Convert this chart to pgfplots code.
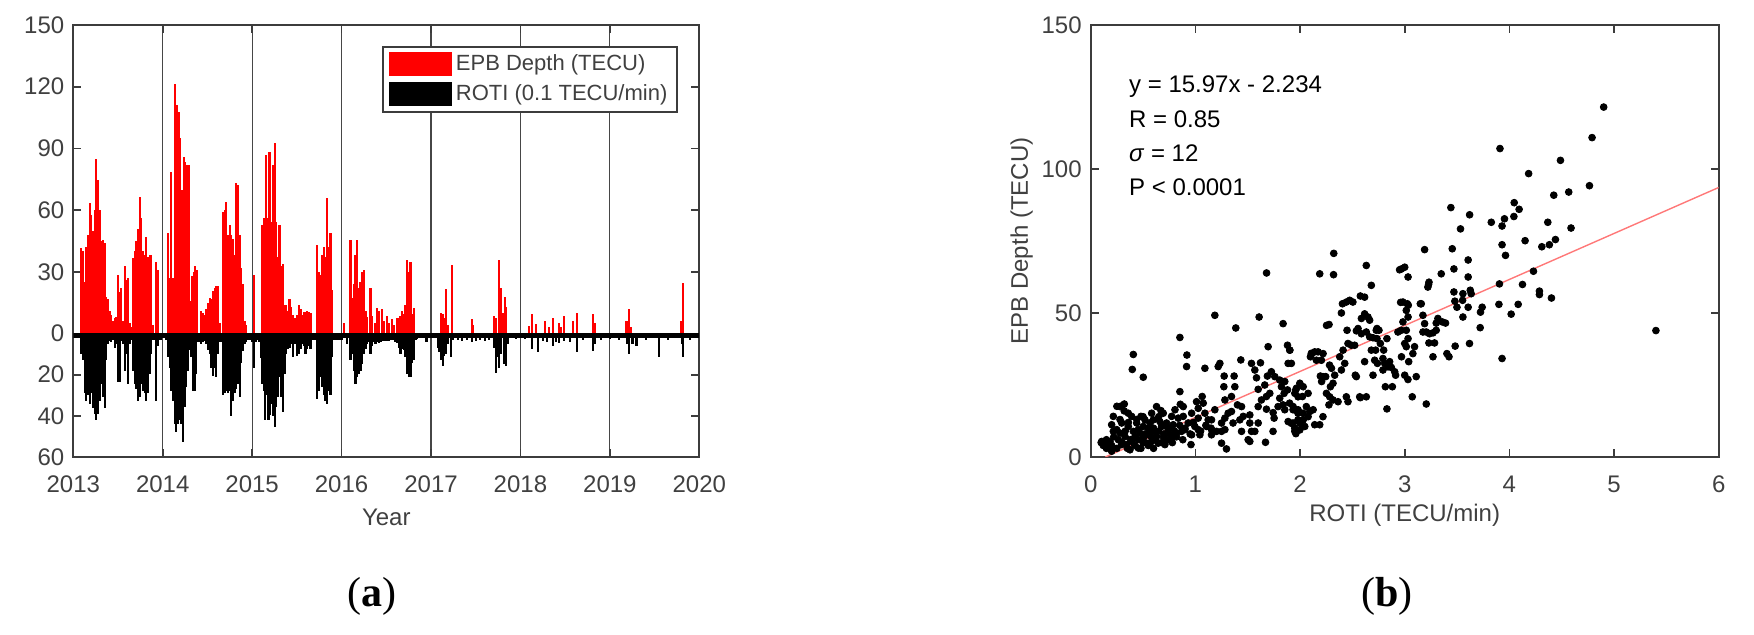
\documentclass[border=0pt]{standalone}
\usepackage{pgfplots}
\pgfplotsset{compat=1.18}
\usepackage{pgfplotstable}
\usepackage{fontspec}
\setmainfont{Liberation Sans}
\newfontfamily\seriffont{Liberation Serif}
\definecolor{txtgray}{RGB}{64,64,64}
\definecolor{axgray}{RGB}{60,60,60}
\definecolor{gridgray}{RGB}{70,70,70}
\definecolor{fitred}{RGB}{255,120,120}

\pgfplotstableread{
yr v
2013.089 41.6
2013.108 40
2013.127 25
2013.145 42
2013.164 48
2013.183 63.4
2013.201 57.7
2013.220 50
2013.239 60
2013.257 84.7
2013.276 74.7
2013.295 60
2013.313 45
2013.332 45.6
2013.350 44
2013.369 18
2013.388 17
2013.406 11
2013.425 9
2013.444 6
2013.462 7.7
2013.481 8
2013.500 28.7
2013.518 20
2013.537 22
2013.556 6
2013.574 32.7
2013.593 26
2013.611 27
2013.630 5
2013.649 3
2013.667 36.8
2013.686 40
2013.705 45
2013.723 51
2013.742 66.6
2013.761 56
2013.779 40
2013.798 38
2013.817 47
2013.835 37
2013.854 38
2013.872 38
2013.891 4
2013.928 35
2013.947 31
2014.059 49
2014.077 27
2014.096 78.7
2014.115 27
2014.133 74
2014.141 121.5
2014.159 111
2014.178 107.7
2014.197 95
2014.215 70
2014.234 86
2014.252 83.5
2014.271 82
2014.290 82
2014.308 16
2014.327 28
2014.346 30
2014.364 32.7
2014.383 31
2014.432 11
2014.450 10
2014.469 9
2014.488 12
2014.506 15
2014.525 17.4
2014.544 17
2014.562 20.6
2014.581 22
2014.600 23
2014.618 23
2014.637 5
2014.674 59
2014.693 60
2014.711 64
2014.730 48
2014.749 53
2014.767 48
2014.786 46
2014.805 38
2014.823 73
2014.842 72
2014.861 48
2014.879 32
2014.898 24
2014.917 6
2014.935 4
2015.019 28.7
2015.112 53
2015.130 56
2015.145 55
2015.157 86.8
2015.175 56
2015.194 88.4
2015.213 54
2015.231 82
2015.254 92.4
2015.268 54
2015.287 37
2015.306 53
2015.324 33
2015.343 34
2015.362 14
2015.380 14
2015.399 11
2015.418 16.6
2015.436 13
2015.455 9
2015.477 7.7
2015.503 9
2015.522 14
2015.541 11.8
2015.559 9
2015.578 10.6
2015.597 10.3
2015.615 11
2015.634 10.6
2015.653 10
2015.727 43
2015.746 30
2015.764 28.7
2015.783 38
2015.802 42
2015.820 37
2015.839 65.8
2015.858 42
2015.876 49
2015.895 21
2016.025 5.3
2016.100 45.6
2016.119 17.4
2016.137 24
2016.156 38
2016.174 45.6
2016.193 22
2016.212 25
2016.230 30
2016.249 31
2016.268 11
2016.286 8
2016.324 22
2016.342 8.5
2016.380 5.3
2016.398 12.6
2016.417 11
2016.454 11.8
2016.473 6
2016.510 8.5
2016.529 5.3
2016.566 7
2016.585 4
2016.622 7.7
2016.641 7.7
2016.659 8.5
2016.678 11
2016.697 9.4
2016.715 14
2016.734 36
2016.753 30
2016.771 35
2016.790 9.4
2016.808 12.6
2017.112 10
2017.130 9.4
2017.149 7.7
2017.168 21.5
2017.186 4
2017.235 33.5
2017.455 7
2017.474 4
2017.708 8.5
2017.727 7.7
2017.764 35.6
2017.783 22
2017.802 10
2017.820 10
2017.831 18
2017.843 13
2018.092 3.7
2018.130 9.4
2018.174 4.5
2018.279 6
2018.316 3
2018.361 7.7
2018.428 5.3
2018.447 3
2018.491 8.5
2018.585 6
2018.629 10
2018.808 9.4
2018.834 5
2019.186 6
2019.216 11.8
2019.235 3
2019.794 6
2019.820 24.7
}\epbdata

\pgfplotstableread{
yr v
2013.089 -10
2013.108 -13
2013.127 -29
2013.145 -32.6
2013.164 -30
2013.183 -34
2013.201 -29
2013.220 -36
2013.239 -39
2013.257 -42
2013.276 -39
2013.295 -32.6
2013.313 -24.5
2013.332 -31
2013.350 -36
2013.369 -13
2013.388 -5
2013.406 -3.5
2013.425 -4
2013.444 -3
2013.462 -7
2013.481 -5
2013.500 -23.7
2013.518 -23.7
2013.537 -3.5
2013.556 -5
2013.574 -18
2013.593 -10
2013.611 -24.5
2013.630 -5
2013.649 -3
2013.667 -18
2013.686 -24.5
2013.705 -27
2013.723 -33
2013.742 -31
2013.761 -24.5
2013.779 -27.7
2013.798 -29
2013.817 -32.6
2013.835 -29
2013.854 -19.7
2013.872 -10
2013.891 -3
2013.910 -3
2013.928 -32.6
2013.947 -6
2013.966 -3
2013.984 -3
2014.003 -2
2014.021 -2
2014.040 -3
2014.059 -11.6
2014.077 -16.5
2014.096 -27.7
2014.115 -32.6
2014.133 -44
2014.152 -48
2014.171 -44
2014.189 -42
2014.208 -44
2014.227 -52.7
2014.245 -35.5
2014.264 -26
2014.283 -18
2014.301 -8
2014.320 -11.6
2014.339 -27.7
2014.357 -27.7
2014.376 -19.7
2014.394 -4
2014.413 -4
2014.432 -5
2014.450 -4
2014.469 -3.5
2014.488 -5
2014.506 -8
2014.525 -10
2014.544 -16.5
2014.562 -20.5
2014.581 -16.5
2014.600 -21
2014.618 -10
2014.637 -4
2014.655 -4
2014.674 -30
2014.693 -29
2014.711 -28
2014.730 -29
2014.749 -27.7
2014.767 -40
2014.786 -32.6
2014.805 -29
2014.823 -27
2014.842 -24.5
2014.861 -31
2014.879 -14.5
2014.898 -8.5
2014.917 -5
2014.935 -4
2014.955 -3
2014.975 -3
2015.000 -4
2015.019 -16.5
2015.040 -4
2015.060 -3
2015.080 -4
2015.100 -12
2015.112 -24.5
2015.130 -27.7
2015.145 -42
2015.163 -29.8
2015.182 -42
2015.200 -39.5
2015.219 -34
2015.238 -40.3
2015.254 -45.5
2015.268 -35.5
2015.287 -31
2015.306 -21
2015.324 -31
2015.343 -38
2015.362 -19.7
2015.380 -10
2015.399 -7.5
2015.418 -6.9
2015.436 -5
2015.455 -11.6
2015.477 -5
2015.503 -10.8
2015.522 -10
2015.541 -7.5
2015.559 -5
2015.578 -6
2015.597 -10
2015.615 -7.5
2015.634 -6
2015.653 -7.5
2015.672 -3
2015.690 -3
2015.709 -3
2015.727 -32
2015.746 -27.7
2015.764 -21
2015.783 -26
2015.802 -29.8
2015.820 -33
2015.839 -34
2015.858 -27.7
2015.876 -30
2015.895 -11.6
2015.915 -3
2015.935 -3
2015.955 -3
2015.975 -3
2016.000 -3
2016.025 -2
2016.062 -5
2016.100 -13
2016.119 -10
2016.137 -18
2016.156 -24.5
2016.174 -21
2016.193 -19.7
2016.212 -18
2016.230 -15
2016.249 -10
2016.268 -7.5
2016.286 -5
2016.305 -4
2016.324 -10
2016.342 -6
2016.361 -4
2016.380 -5
2016.398 -4
2016.417 -4.4
2016.436 -4
2016.454 -3.5
2016.473 -3.5
2016.492 -3.5
2016.510 -3.5
2016.529 -3.5
2016.548 -3
2016.566 -3
2016.585 -3
2016.603 -4
2016.622 -4.4
2016.641 -7
2016.659 -10
2016.678 -7.5
2016.697 -8
2016.715 -11.6
2016.734 -19.7
2016.753 -21
2016.771 -21
2016.790 -14.5
2016.808 -13
2016.827 -3
2016.845 -2.5
2016.950 -4
2017.075 -7
2017.093 -9
2017.112 -13
2017.130 -15.6
2017.149 -11
2017.168 -10
2017.186 -5
2017.224 -11.6
2017.242 -3
2017.300 -3
2017.350 -3.5
2017.400 -3
2017.455 -4
2017.500 -3.5
2017.550 -3
2017.600 -3.5
2017.650 -3
2017.708 -7
2017.727 -19
2017.746 -11.6
2017.764 -16.5
2017.783 -10
2017.820 -15
2017.839 -16
2017.858 -5
2017.950 -2.5
2018.050 -2.5
2018.130 -7.5
2018.193 -9
2018.250 -3.5
2018.300 -4
2018.361 -6
2018.400 -4
2018.428 -4.4
2018.491 -3.5
2018.550 -4
2018.629 -9
2018.700 -3
2018.808 -8.4
2018.834 -5
2018.900 -3
2019.000 -2.5
2019.100 -3
2019.198 -5
2019.216 -10
2019.254 -5
2019.298 -6
2019.400 -3
2019.552 -11.6
2019.650 -3
2019.805 -5
2019.820 -11.6
2019.900 -3
}\rotidata

\pgfplotstableread{
x y
4.901 121.5
4.790 110.9
4.488 103.0
4.184 98.4
4.765 94.2
4.567 92.0
4.424 90.9
4.046 88.3
4.093 86.0
4.043 83.5
3.953 82.7
3.930 80.2
4.367 81.5
4.589 79.5
4.150 75.1
4.440 75.5
4.382 73.7
4.310 73.0
3.930 73.7
3.963 70.0
4.230 64.5
4.125 59.9
4.287 57.6
4.287 56.4
4.402 55.2
4.084 53.0
4.017 49.6
3.930 34.2
5.400 43.9
3.910 107.1
3.905 60.1
3.900 53.0
3.827 81.5
3.620 84.1
3.533 79.2
3.441 86.6
3.454 72.3
3.190 72.0
3.606 68.4
3.470 65.3
3.606 62.5
3.724 50.3
3.740 52.0
3.721 44.9
3.635 56.7
3.626 57.9
3.556 56.7
3.553 54.4
3.556 48.6
3.606 52.0
3.470 57.3
3.479 54.1
3.499 52.0
3.619 39.4
3.482 38.5
3.349 63.6
3.228 59.9
3.221 59.0
3.149 53.2
3.034 52.7
3.015 50.9
2.961 53.7
3.000 65.9
2.969 65.3
3.032 62.5
3.025 53.2
3.032 48.6
3.015 44.0
2.983 46.9
2.967 44.0
2.935 43.4
3.000 39.4
3.032 41.1
3.015 38.3
3.094 38.3
3.078 35.9
3.038 33.1
2.969 34.8
3.110 27.9
3.031 26.9
3.000 28.4
3.072 20.9
3.206 18.4
2.830 16.7
2.815 24.4
2.882 24.4
3.174 49.2
3.190 46.3
3.174 43.4
3.206 43.4
3.237 42.8
3.270 43.1
3.301 44.0
3.285 39.6
3.231 39.6
3.270 34.8
3.301 46.5
3.359 46.9
3.390 46.5
3.317 48.1
3.403 35.9
3.423 34.8
3.232 60.7
3.158 53.2
2.983 53.8
2.951 65.0
2.617 49.7
2.649 48.6
2.586 48.1
2.681 59.6
2.633 66.5
2.576 55.9
2.617 55.5
2.442 53.8
2.474 54.4
2.395 50.0
2.277 46.0
2.449 44.0
2.538 43.8
2.522 38.8
2.490 38.8
2.665 47.5
2.728 44.0
2.665 41.7
2.697 41.4
2.735 41.1
2.767 39.4
2.830 41.1
2.754 44.0
2.713 33.6
2.739 32.5
2.722 37.1
2.799 37.1
2.792 34.2
2.808 32.5
2.840 31.3
2.872 31.1
2.904 29.6
2.913 28.4
2.792 30.2
2.856 33.1
2.617 33.1
2.681 37.1
2.735 44.6
2.554 44.6
2.633 43.4
2.528 28.4
2.538 27.9
2.570 20.9
2.633 20.9
2.697 28.4
2.458 39.4
2.411 37.1
2.379 34.8
2.427 32.5
2.395 30.2
2.331 28.4
2.315 25.6
2.290 24.4
2.252 22.1
2.283 20.9
2.276 18.1
2.315 19.8
2.363 19.2
2.442 20.9
2.458 19.2
2.576 20.6
2.282 31.9
2.300 30.8
2.219 27.9
2.245 27.9
2.206 26.2
2.194 28.1
2.204 33.6
2.220 35.9
2.172 36.5
2.108 35.7
2.140 36.5
2.099 34.8
2.156 33.6
2.188 63.6
2.322 70.7
2.320 63.3
2.405 53.2
2.505 53.8
2.253 45.7
2.586 42.8
1.902 37.1
1.917 32.5
1.959 23.3
1.998 25.6
2.030 24.4
1.950 22.1
1.981 20.9
1.934 17.5
1.981 16.4
2.029 15.2
2.093 15.8
2.125 16.4
2.077 14.0
2.029 12.9
1.998 11.7
1.949 10.0
1.998 9.4
1.960 8.1
2.140 11.2
2.188 11.2
2.219 14.0
1.917 11.7
1.900 18.7
1.680 63.9
1.186 49.2
1.609 48.6
1.838 46.3
1.386 44.8
0.852 41.5
0.407 35.6
0.397 30.4
0.502 27.7
0.919 35.4
0.916 31.4
1.695 38.3
1.880 38.8
1.902 37.1
2.108 36.0
1.886 32.5
1.536 32.5
1.568 30.2
1.622 32.7
1.234 32.5
1.218 31.4
1.434 33.7
1.091 30.8
1.275 28.1
1.370 28.1
1.272 24.4
1.377 24.4
1.345 21.0
1.402 18.1
1.584 27.5
1.600 23.5
1.688 28.1
1.726 29.6
1.759 27.9
1.806 26.7
1.854 26.2
1.822 24.4
1.880 23.3
1.848 22.1
1.806 20.4
1.711 22.1
1.679 21.0
1.631 19.8
1.743 15.4
1.679 16.6
1.600 17.5
1.520 11.8
1.600 11.8
1.568 8.9
1.670 5.1
1.520 5.4
1.504 6.0
1.742 8.9
1.886 12.3
1.933 11.8
1.950 8.9
2.029 12.9
1.980 15.2
2.060 17.5
1.282 13.5
1.313 15.2
1.154 12.9
1.106 10.6
1.154 7.7
1.202 8.9
1.250 8.9
1.282 9.5
1.250 4.8
1.297 2.8
1.065 21.0
1.011 19.2
1.027 16.9
1.075 18.7
1.027 13.5
0.931 11.8
0.964 7.7
0.958 4.3
0.900 9.5
0.852 22.7
0.856 18.3
0.884 17.5
0.805 16.4
0.836 13.5
0.788 11.2
0.820 8.3
0.725 11.8
0.693 15.2
0.671 16.1
0.661 12.3
0.598 12.9
0.566 11.8
0.614 8.9
0.550 7.7
0.502 10.6
0.470 8.3
0.439 11.8
0.407 8.9
0.359 10.6
0.328 7.1
0.296 11.8
0.280 17.5
0.321 18.4
0.216 14.1
0.200 11.2
0.216 8.9
0.184 5.4
0.105 5.4
0.120 4.8
0.152 3.7
0.264 6.0
0.296 4.3
0.375 2.5
0.455 3.1
0.534 4.8
0.582 5.4
0.645 4.8
0.709 4.3
0.693 7.1
0.757 7.7
0.757 5.8
0.788 7.1
0.423 7.1
0.391 5.4
0.343 4.3
0.502 6.6
0.629 7.1
0.582 9.5
0.518 12.9
0.480 14.1
0.391 14.1
0.359 15.2
0.248 9.5
0.280 8.3
0.455 9.5
0.677 10.6
0.741 9.5
0.868 8.9
1.027 9.5
1.043 7.7
0.995 10.6
0.884 14.1
0.773 14.1
0.582 15.2
0.629 17.5
1.122 12.9
1.154 9.5
1.360 11.8
1.425 12.9
1.441 17.5
1.457 14.1
1.520 14.6
1.345 15.8
1.790 17.5
1.838 18.1
1.854 16.4
1.933 16.4
1.980 12.9
1.752 13.5
2.045 10.6
1.966 23.9
2.023 21.0
2.077 22.1
1.663 25.0
1.282 19.8
1.186 16.4
1.441 8.9
1.536 8.9
1.250 11.8
1.091 15.2
0.964 15.2
0.150 6.0
0.200 4.0
0.220 7.0
0.250 3.0
0.300 5.0
0.330 9.0
0.350 3.0
0.380 6.0
0.420 4.0
0.450 6.0
0.480 3.0
0.500 5.0
0.520 8.0
0.550 4.0
0.580 7.0
0.600 3.0
0.620 6.0
0.650 9.0
0.680 5.0
0.700 8.0
0.720 6.0
0.750 10.0
0.780 5.0
0.800 9.0
0.820 7.0
0.850 11.0
0.880 6.0
0.900 10.0
0.950 8.0
0.980 12.0
1.050 9.0
1.100 11.0
1.150 10.0
0.280 13.0
0.320 16.0
0.360 12.0
0.440 13.0
0.500 14.0
0.550 10.0
0.600 10.0
0.650 14.0
0.700 11.0
0.250 17.6
0.300 17.8
0.100 5.0
0.120 4.0
0.150 3.0
0.200 2.0
}\scatterdata

\begin{document}
\begin{tikzpicture}
\path[use as bounding box] (0,0) rectangle (877pt,317.5pt);
\pgfplotsset{
  every axis/.append style={
    scale only axis,
    anchor=south west,
    font=\fontsize{12pt}{14pt}\selectfont,
    axis line style={draw=axgray, line width=0.9pt},
    tick style={draw=axgray, line width=0.8pt},
    tick align=inside,
    major tick length=4pt,
    ticklabel style={text=txtgray},
    label style={text=txtgray},
    /pgf/number format/assume math mode=true,
    /pgf/number format/1000 sep={},
    xticklabel style={yshift=-6pt},
    yticklabel style={xshift=-1pt},
  }
}
\begin{axis}[
  at={(36.65pt,89pt)},
  width=313pt, height=216pt,
  xmin=2013, xmax=2020, ymin=-60, ymax=150,
  xtick={2013,2014,2015,2016,2017,2018,2019,2020},
  ytick={-60,-40,-20,0,30,60,90,120,150},
  yticklabels={60,40,20,0,30,60,90,120,150},
  xmajorgrids, grid style={draw=gridgray, line width=0.6pt},
  xlabel={Year},
  xlabel style={at={(axis description cs:0.5,0)}, anchor=center, yshift=-30pt},
  legend style={at={(1,1)}, anchor=north east, xshift=-10.5pt, yshift=-10.5pt,
    draw=axgray, line width=0.9pt, font=\fontsize{11pt}{13pt}\selectfont,
    text=txtgray, inner xsep=3pt, inner ysep=2pt, row sep=1.5pt},
  legend cell align=left,
]
\addplot[ycomb, draw=red, line width=1.1pt, mark=none,
  legend image code/.code={\fill[red] (0pt,-5.5pt) rectangle (30.5pt,5.5pt);}]
  table[x=yr, y=v] {\epbdata};
\addlegendentry{EPB Depth (TECU)}
\addplot[ycomb, draw=black, line width=1.1pt, mark=none,
  legend image code/.code={\fill[black] (0pt,-5.5pt) rectangle (30.5pt,5.5pt);}]
  table[x=yr, y=v] {\rotidata};
\addlegendentry{ROTI (0.1 TECU/min)}
\addplot[black, line width=2.4pt, forget plot] coordinates {(2013,-0.8) (2020,-0.8)};
\end{axis}

\begin{axis}[
  at={(545.35pt,89pt)},
  width=314pt, height=216pt,
  xmin=0, xmax=6, ymin=0, ymax=150,
  xtick={0,1,2,3,4,5,6},
  ytick={0,50,100,150},
  xlabel={ROTI (TECU/min)},
  xlabel style={at={(axis description cs:0.5,0)}, anchor=center, yshift=-29pt},
  ylabel={EPB Depth (TECU)},
  ylabel style={at={(axis description cs:0,0.5)}, anchor=center, yshift=34.5pt},
]
\addplot[only marks, mark=*, mark size=1.7pt, mark options={fill=black, draw=black}]
  table[x=x, y=y] {\scatterdata};
\addplot[fitred, line width=0.7pt] coordinates {(0.14,0.0) (6,93.586)};
\node[anchor=west, text=black] at (axis cs:0.3,128.7) {y = 15.97x - 2.234};
\node[anchor=west, text=black] at (axis cs:0.3,117.3) {R = 0.85};
\node[anchor=west, text=black] at (axis cs:0.3,105.6) {\textit{σ} = 12};
\node[anchor=west, text=black] at (axis cs:0.3,93.8) {P < 0.0001};
\end{axis}

\node[font=\seriffont\fontsize{21pt}{24pt}\selectfont] at (186pt,19.5pt) {(\textbf{a})};
\node[font=\seriffont\fontsize{21pt}{24pt}\selectfont] at (693.5pt,19.5pt) {(\textbf{b})};
\end{tikzpicture}
\end{document}
